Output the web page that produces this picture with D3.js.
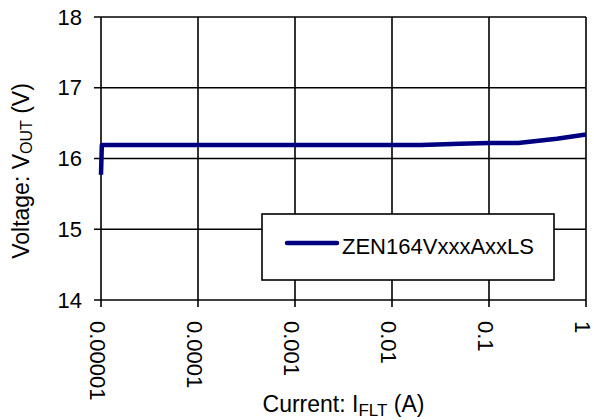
<!DOCTYPE html>
<html>
<head>
  <meta charset="utf-8">
  <script src="https://cdn.jsdelivr.net/npm/d3@7"></script>
  <style>
    body { margin: 0; background: #fff; }
    text { font-family: "Liberation Sans", Arial, sans-serif; fill: #000; }
  </style>
</head>
<body>
<script>
  // data
  var current = [0.00001, 0.0000102, 0.0001, 0.001, 0.01, 0.02, 0.05, 0.1, 0.2, 0.5, 1];
  var voltage = [15.77, 16.19, 16.19, 16.19, 16.19, 16.19, 16.21, 16.22, 16.22, 16.28, 16.34];
  var xTicks = [0.00001, 0.0001, 0.001, 0.01, 0.1, 1];
  var xTickLabels = ["0.00001", "0.0001", "0.001", "0.01", "0.1", "1"];
  var yTicks = [14, 15, 16, 17, 18];
  var seriesName = "ZEN164VxxxAxxLS";

  var width = 594, height = 420;
  var margins = { top: 17, right: 8, bottom: 120, left: 101 };

  var svg = d3.select("body").append("svg")
      .attr("width", width)
      .attr("height", height);

  var xScale = d3.scaleLog()
      .domain([0.00001, 1])
      .range([margins.left, width - margins.right]);

  var yScale = d3.scaleLinear()
      .domain([14, 18])
      .range([height - margins.bottom, margins.top]);

  // grid (vertical lines run past the bottom axis as tick marks)
  svg.append("g").selectAll("line")
      .data(xTicks)
      .enter().append("line")
      .attr("x1", function(d){ return xScale(d); })
      .attr("x2", function(d){ return xScale(d); })
      .attr("y1", yScale(14) + 7)
      .attr("y2", yScale(18))
      .style("stroke", "#000")
      .style("stroke-width", 1.6);

  svg.append("g").selectAll("line")
      .data(yTicks)
      .enter().append("line")
      .attr("x1", xScale(0.00001) - 7)
      .attr("x2", xScale(1))
      .attr("y1", function(d){ return yScale(d); })
      .attr("y2", function(d){ return yScale(d); })
      .style("stroke", "#000")
      .style("stroke-width", 1.6);

  // y tick labels
  svg.append("g").selectAll("text")
      .data(yTicks)
      .enter().append("text")
      .attr("x", xScale(0.00001) - 19)
      .attr("y", function(d){ return yScale(d); })
      .attr("dy", "0.35em")
      .style("text-anchor", "end")
      .style("font-size", "22px")
      .text(function(d){ return d; });

  // x tick labels, rotated to read top to bottom
  svg.append("g").selectAll("text")
      .data(xTicks)
      .enter().append("text")
      .attr("transform", function(d){
        return "translate(" + xScale(d) + "," + (yScale(14) + 21) + ") rotate(90)";
      })
      .attr("dy", "0.5em")
      .style("text-anchor", "start")
      .style("font-size", "22px")
      .text(function(d, i){ return xTickLabels[i]; });

  // axis titles
  var xTitle = svg.append("text")
      .attr("x", (xScale(0.00001) + xScale(1)) / 2)
      .attr("y", 412)
      .style("text-anchor", "middle")
      .style("font-size", "23px");
  xTitle.append("tspan").text("Current: I");
  xTitle.append("tspan").attr("dy", 4).style("font-size", "17px").text("FLT");
  xTitle.append("tspan").attr("dy", -4).text(" (A)");

  var yTitle = svg.append("text")
      .attr("transform", "translate(29," + 171 + ") rotate(-90)")
      .style("text-anchor", "middle")
      .style("font-size", "23px");
  yTitle.append("tspan").text("Voltage: V");
  yTitle.append("tspan").attr("dy", 3).style("font-size", "16px").text("OUT");
  yTitle.append("tspan").attr("dy", -3).text(" (V)");

  // series line
  var line = d3.line()
      .x(function(d){ return xScale(d[0]); })
      .y(function(d){ return yScale(d[1]); });

  svg.append("path")
      .datum(d3.zip(current, voltage))
      .attr("d", line)
      .style("fill", "none")
      .style("stroke", "#000080")
      .style("stroke-width", 4.5)
      .style("stroke-linejoin", "round");

  // legend
  var legend = svg.append("g");
  legend.append("rect")
      .attr("x", 262).attr("y", 214)
      .attr("width", 292).attr("height", 66)
      .style("fill", "#fff")
      .style("stroke", "#000")
      .style("stroke-width", 1.6);
  legend.append("line")
      .attr("x1", 287).attr("x2", 337)
      .attr("y1", 243).attr("y2", 243)
      .style("stroke", "#000080")
      .style("stroke-width", 4.5)
      .style("stroke-linecap", "round");
  legend.append("text")
      .attr("x", 342).attr("y", 254)
      .style("font-size", "22px")
      .text(seriesName);
</script>
</body>
</html>
